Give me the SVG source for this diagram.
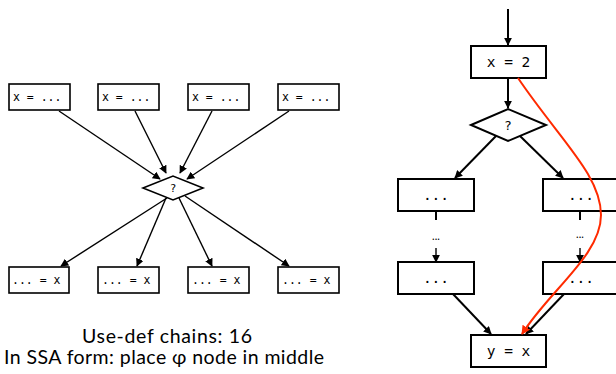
<svg xmlns="http://www.w3.org/2000/svg" width="616" height="374" viewBox="0 0 616 374">
  <style>
    .box { fill: #fff; stroke: #000; stroke-width: 1.6; }
    .boxr { fill: #fff; stroke: #000; stroke-width: 2; }
    .code { font-family: "DejaVu Sans Mono", "Liberation Mono", monospace; fill: #000; }
    .small { font-size: 11.5px; }
    .big { font-size: 14.5px; text-anchor: middle; }
    .edge { stroke: #000; stroke-width: 1.4; fill: none; marker-end: url(#ah); }
    .edger { stroke: #000; stroke-width: 2; fill: none; marker-end: url(#ah); }
    .plain { stroke: #000; stroke-width: 2; fill: none; }
    .caption { font-family: Lato, "Liberation Sans", sans-serif; font-size: 19.5px; text-anchor: middle; fill: #000; }
    .dots { font-family: Lato, "Liberation Sans", sans-serif; font-size: 11px; text-anchor: middle; fill: #000; }
  </style>
  <defs>
    <marker id="ah" viewBox="0 0 10 10" refX="9" refY="5" markerWidth="8" markerHeight="8" markerUnits="userSpaceOnUse" orient="auto">
      <path d="M0,0 L10,5 L0,10 z" fill="#000"/>
    </marker>
    <marker id="ahr" viewBox="0 0 10 10" refX="9" refY="5" markerWidth="9" markerHeight="9" markerUnits="userSpaceOnUse" orient="auto">
      <path d="M0,0 L10,5 L0,10 z" fill="#ff2a00"/>
    </marker>
  </defs>

  <!-- left: many definitions reaching many uses through one join -->
  <g id="connectors-left">
    <line class="edge" x1="59" y1="111" x2="160" y2="179"/>
    <line class="edge" x1="135" y1="111" x2="166" y2="173"/>
    <line class="edge" x1="212" y1="111" x2="180" y2="173"/>
    <line class="edge" x1="289" y1="111" x2="187" y2="179"/>
    <line class="edge" x1="167" y1="198" x2="61" y2="266"/>
    <line class="edge" x1="166" y1="198" x2="137" y2="266"/>
    <line class="edge" x1="179" y1="198" x2="212" y2="266"/>
    <line class="edge" x1="185" y1="196" x2="289" y2="266"/>
  </g>

  <g id="def1"><rect class="box" x="9" y="84" width="61" height="26"/><text class="code small" x="13" y="101">x = ...</text></g>
  <g id="def2"><rect class="box" x="98" y="84" width="61" height="26"/><text class="code small" x="102" y="101">x = ...</text></g>
  <g id="def3"><rect class="box" x="188" y="84" width="61" height="26"/><text class="code small" x="192" y="101">x = ...</text></g>
  <g id="def4"><rect class="box" x="278" y="84" width="61" height="26"/><text class="code small" x="282" y="101">x = ...</text></g>

  <g id="join"><polygon class="box" points="143,188 173,176 203,188 173,200"/><text class="code" font-size="11" x="173" y="192" text-anchor="middle">?</text></g>

  <g id="use1"><rect class="box" x="9" y="267" width="60" height="26"/><text class="code small" x="12" y="284">... = x</text></g>
  <g id="use2"><rect class="box" x="98" y="267" width="61" height="26"/><text class="code small" x="102" y="284">... = x</text></g>
  <g id="use3"><rect class="box" x="188" y="267" width="61" height="26"/><text class="code small" x="192" y="284">... = x</text></g>
  <g id="use4"><rect class="box" x="278" y="267" width="61" height="26"/><text class="code small" x="282" y="284">... = x</text></g>

  <g id="caption">
    <text class="caption" x="167" y="343" textLength="170" lengthAdjust="spacing">Use-def chains: 16</text>
    <text class="caption" x="164" y="364" textLength="320" lengthAdjust="spacing">In SSA form: place φ node in middle</text>
  </g>

  <!-- right: one definition flowing through a branch to a use -->
  <g id="connectors-right">
    <line class="edger" x1="508" y1="9" x2="508" y2="45"/>
    <line class="edger" x1="508" y1="78" x2="508" y2="108"/>
    <line class="edger" x1="496" y1="136" x2="455" y2="178"/>
    <line class="edger" x1="520" y1="136" x2="563" y2="178"/>
    <line class="plain" x1="436" y1="211" x2="436" y2="220"/>
    <line class="edge" x1="436" y1="248" x2="436" y2="262"/>
    <line class="plain" x1="580" y1="211" x2="580" y2="220"/>
    <line class="edge" x1="580" y1="248" x2="580" y2="262"/>
    <line class="edger" x1="453" y1="294" x2="491" y2="334"/>
    <line class="edger" x1="564" y1="294" x2="526" y2="334"/>
    <text class="dots" x="436" y="240">...</text>
    <text class="dots" x="580" y="238">...</text>
  </g>

  <g id="assign"><rect class="boxr" x="471" y="46" width="75" height="32"/><text class="code big" x="508.5" y="67">x = 2</text></g>
  <g id="branch"><polygon class="boxr" points="471,125 508,109 546,125 508,141"/><text class="code" font-size="13" x="508" y="130" text-anchor="middle">?</text></g>
  <g id="left-top"><rect class="boxr" x="398" y="179" width="76" height="32"/><text class="code big" x="436" y="200">...</text></g>
  <g id="right-top"><rect class="boxr" x="543" y="179" width="76" height="32"/><text class="code big" x="581" y="200">...</text></g>
  <g id="left-bottom"><rect class="boxr" x="398" y="262" width="76" height="32"/><text class="code big" x="436" y="283">...</text></g>
  <g id="right-bottom"><rect class="boxr" x="543" y="262" width="76" height="32"/><text class="code big" x="581" y="283">...</text></g>
  <g id="use"><rect class="boxr" x="471" y="335" width="75" height="32"/><text class="code big" x="508.5" y="356">y = x</text></g>

  <!-- def-use edge drawn on top of the blocks it passes over -->
  <g id="connector-defuse">
    <path d="M518,78 C560,140 601,175 601,215 C601,255 550,290 522,334" fill="none" stroke="#ff2a00" stroke-width="2" marker-end="url(#ahr)"/>
  </g>
</svg>
